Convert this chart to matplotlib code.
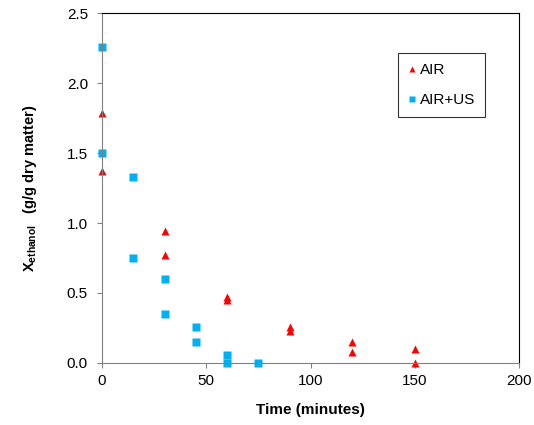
import matplotlib
matplotlib.use("Agg")
import matplotlib.pyplot as plt

plt.rcParams['font.family'] = ['Liberation Sans', 'DejaVu Sans']
plt.rcParams['mathtext.fontset'] = 'custom'
plt.rcParams['mathtext.rm'] = 'Liberation Sans'
plt.rcParams['mathtext.bf'] = 'Liberation Sans:bold'

# drying runs: ethanol content vs time
air_t = [0, 0, 30, 30, 60, 60, 90, 90, 120, 120, 150, 150]
air_x = [1.79, 1.37, 0.94, 0.77, 0.47, 0.45, 0.26, 0.23, 0.15, 0.08, 0.10, 0.0]

us_t = [0, 0, 15, 15, 30, 30, 45, 45, 60, 60, 75]
us_x = [2.26, 1.50, 1.33, 0.75, 0.60, 0.35, 0.26, 0.15, 0.06, 0.0, 0.0]

fig = plt.figure(figsize=(5.34, 4.25), dpi=100)
ax = fig.add_axes([0.191, 0.146, 0.781, 0.823])

ax.plot(air_t, air_x, '^', color='#FF0000', ms=5.8, mec='none', label='AIR', clip_on=False)
ax.plot(us_t, us_x, 's', color='#00B0F0', ms=5.3, mec='none', label='AIR+US', clip_on=False)

ax.set_xlim(0, 200)
ax.set_ylim(0, 2.5)
ax.set_xticks([0, 50, 100, 150, 200])
ax.set_yticks([0, 0.5, 1.0, 1.5, 2.0, 2.5])
ax.set_yticklabels(['0.0', '0.5', '1.0', '1.5', '2.0', '2.5'])
ax.tick_params(direction='out', length=3.6, color='#808080', labelsize=11)
ax.tick_params(axis='x', pad=4)
ax.tick_params(axis='y', pad=6.5)

for s in ['left', 'bottom']:
    ax.spines[s].set_color('#808080')
for s in ['top', 'right']:
    ax.spines[s].set_color('black')

ax.set_xlabel('Time (minutes)', fontsize=11, fontweight='bold', labelpad=11.5)
ax.set_ylabel(r'$\mathbf{X}_{\mathbf{ethanol}}$   (g/g dry matter)', fontsize=10.5,
              fontweight='bold', labelpad=20)

leg = ax.legend(loc='upper right', bbox_to_anchor=(0.9185, 0.8857), borderaxespad=0,
                fancybox=False, edgecolor='black', fontsize=11, handlelength=0.6,
                handletextpad=0.2, labelspacing=1.05, borderpad=0.65, markerscale=0.85)
leg.get_frame().set_linewidth(0.8)

fig.savefig('out.png', dpi=100)
